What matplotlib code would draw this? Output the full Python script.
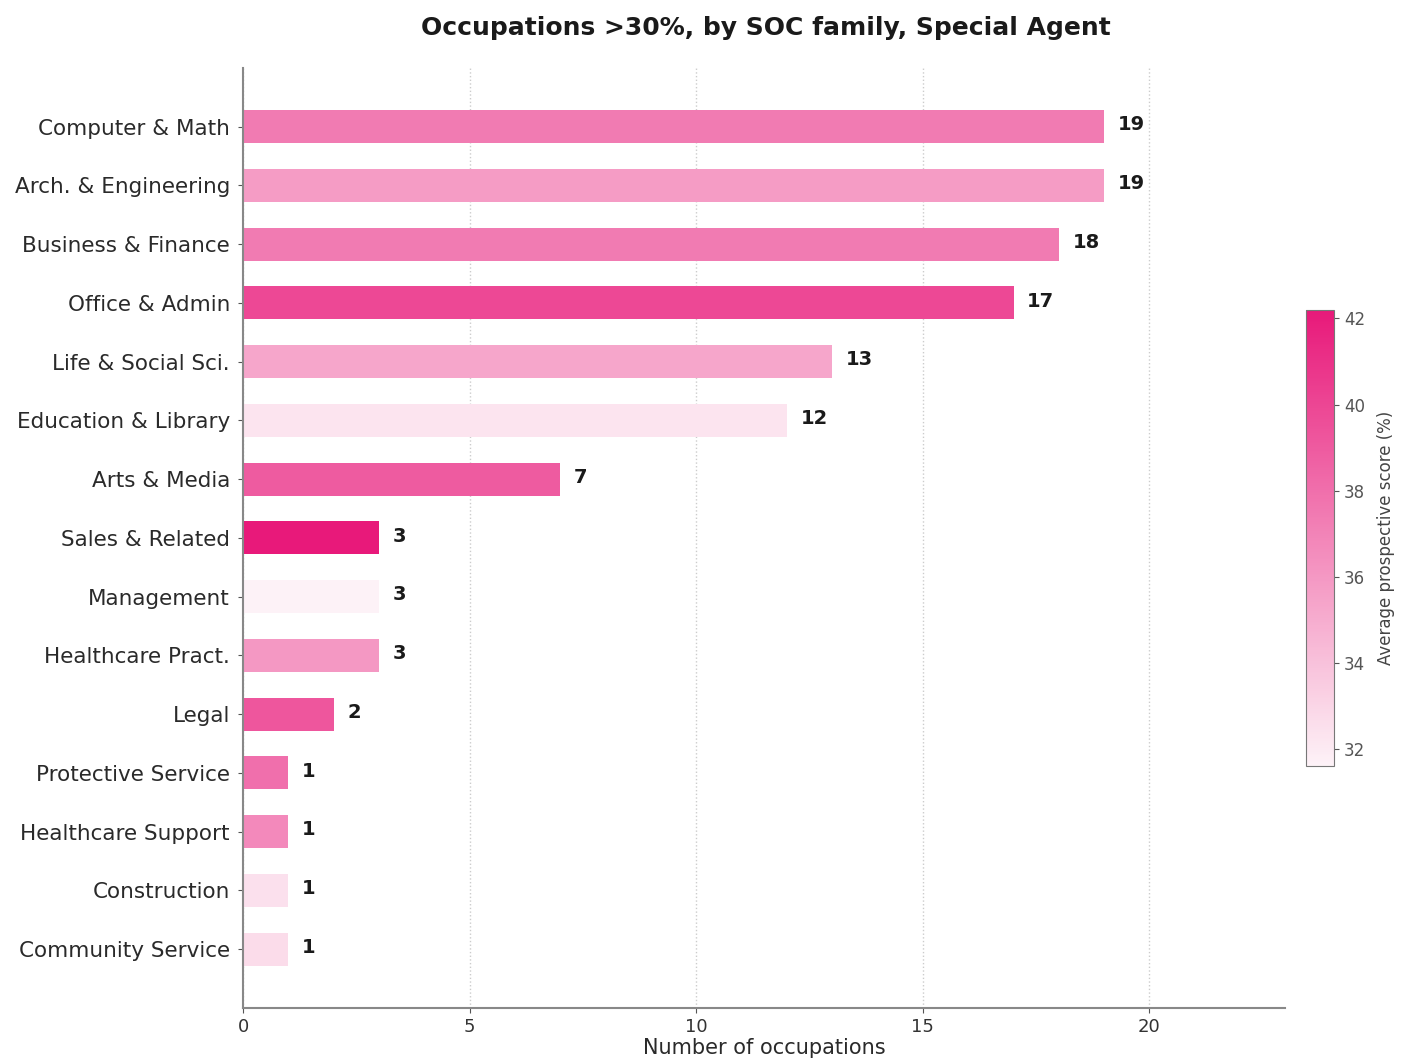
"""
Occupations >30% by SOC family, Special Agent.
Horizontal bar chart, bars coloured by average prospective score.
"""
import matplotlib
matplotlib.use("Agg")
import matplotlib.pyplot as plt
from matplotlib.colors import LinearSegmentedColormap, Normalize
from matplotlib.cm import ScalarMappable

# ── Data ─────────────────────────────────────────────────────────────────────

families = [
    "Computer & Math", "Arch. & Engineering", "Business & Finance",
    "Office & Admin", "Life & Social Sci.", "Education & Library",
    "Arts & Media", "Sales & Related", "Management", "Healthcare Pract.",
    "Legal", "Protective Service", "Healthcare Support", "Construction",
    "Community Service",
]
counts = [19, 19, 18, 17, 13, 12, 7, 3, 3, 3, 2, 1, 1, 1, 1]
avg_score = [37.4, 35.8, 37.4, 39.9, 35.3, 32.3, 39.0, 42.2, 31.6,
             36.0, 39.2, 38.0, 36.7, 32.5, 32.7]

# ── Plot ─────────────────────────────────────────────────────────────────────

cmap = LinearSegmentedColormap.from_list("pinks", ["#fdf2f7", "#e8197a"])
norm = Normalize(vmin=min(avg_score), vmax=max(avg_score))

fig = plt.figure(figsize=(14.01, 10.61), dpi=100)
ax = fig.add_axes([0.1735, 0.05, 0.744, 0.886])

y = list(range(len(families)))
ax.barh(y, counts, height=0.56, color=[cmap(norm(v)) for v in avg_score])

for yi, c in zip(y, counts):
    ax.text(c + 0.3, yi - 0.03, str(c), va="center", ha="left",
            fontsize=14, fontweight="bold", color="#1a1a1a")

ax.set_yticks(y)
ax.set_yticklabels(families, fontsize=15.5, color="#2a2a2a")
ax.set_ylim(len(families), -1)
ax.set_xlim(0, 23)
ax.set_xticks([0, 5, 10, 15, 20])
ax.tick_params(axis="x", labelsize=13, colors="#333333")
ax.tick_params(axis="y", pad=6)
ax.tick_params(axis="both", color="#555555")
ax.set_xlabel("Number of occupations", fontsize=15, color="#2a2a2a", labelpad=2)

for s in ("top", "right"):
    ax.spines[s].set_visible(False)
for s in ("left", "bottom"):
    ax.spines[s].set_color("#888888")
    ax.spines[s].set_linewidth(1.5)

ax.grid(True, axis="x", linestyle=":", color="#cccccc", linewidth=1)
ax.set_axisbelow(True)

fig.suptitle("Occupations >30%, by SOC family, Special Agent",
             x=0.547, y=0.985, fontsize=18, fontweight="bold", color="#1a1a1a")

# colorbar
cax = fig.add_axes([0.9325, 0.278, 0.02, 0.43])
sm = ScalarMappable(norm=norm, cmap=cmap)
cb = fig.colorbar(sm, cax=cax)
cb.set_ticks([32, 34, 36, 38, 40, 42])
cb.ax.tick_params(labelsize=12, colors="#555555")
cb.outline.set_edgecolor("#777777")
cb.set_label("Average prospective score (%)", fontsize=12, color="#444444",
             labelpad=8)

plt.savefig("out.png", dpi=100)
